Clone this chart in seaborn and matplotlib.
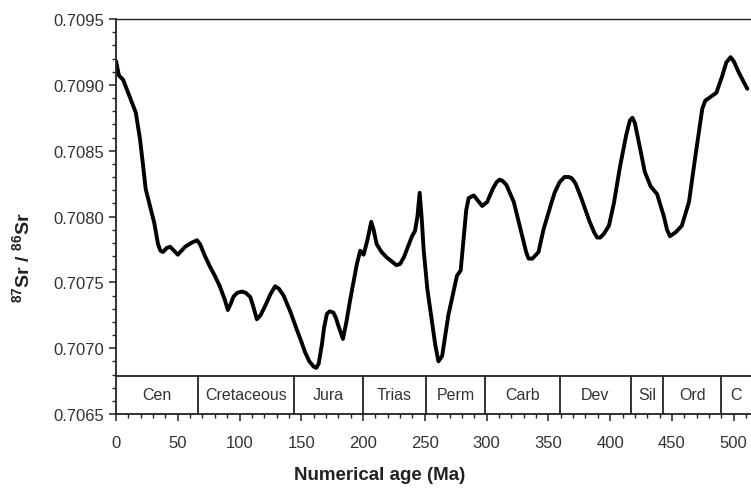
import matplotlib
matplotlib.use("Agg")
import matplotlib.pyplot as plt
import seaborn as sns
import pandas as pd
from matplotlib.ticker import MultipleLocator

# Sr isotope curve
age_ma = [0, 2.4, 5.7, 9, 12.7, 16, 19.4, 22, 24, 27.5, 31, 34, 36, 38, 41, 43.8, 47, 50,
          53, 56, 61, 65.6, 68, 72, 76, 80, 84, 88, 90.5, 93, 95, 98, 102, 105, 108.6,
          111, 114, 117, 120.7, 125, 128.8, 132, 135.6, 141, 146.4, 150, 153, 156.5,
          160, 162, 164, 166.7, 168.5, 170.7, 173, 176, 178, 180, 183.7, 186.5, 189.6,
          195, 197.7, 200.4, 203.5, 206.6, 208.5, 211, 215, 219, 223, 227, 230, 233,
          239.6, 242, 244, 245.8, 247.5, 249, 252, 255.8, 258.5, 261, 264, 269, 276,
          279, 281.5, 283.5, 285.5, 289.6, 293, 296.4, 300.4, 305, 308, 310.6, 313,
          316, 322, 328.8, 332, 334, 337, 342, 346, 351.7, 355, 359, 363, 366.5, 369,
          372, 377, 383, 387, 389.5, 392, 395, 399, 403, 408, 413, 416, 418, 420,
          424.6, 428, 432.7, 438, 443.5, 446, 448.4, 453, 458, 463.8, 469, 474.6,
          477, 480, 486, 490.8, 494, 497.5, 500, 504.3, 511]
sr_ratio = [0.70918, 0.70907, 0.70904, 0.70896, 0.70887, 0.70879, 0.70859, 0.70838,
            0.70821, 0.70808, 0.70795, 0.70779, 0.70774, 0.70773, 0.70776, 0.70777,
            0.70774, 0.70771, 0.70774, 0.70777, 0.70780, 0.70782, 0.70779, 0.70770,
            0.70762, 0.70755, 0.70747, 0.70737, 0.70729, 0.70734, 0.70739, 0.70742,
            0.70743, 0.70742, 0.70739, 0.70732, 0.70722, 0.70725, 0.70732, 0.70741,
            0.70747, 0.70745, 0.70740, 0.70728, 0.70714, 0.70705, 0.70697, 0.70690,
            0.70686, 0.70685, 0.70688, 0.70703, 0.70716, 0.70726, 0.70728, 0.70727,
            0.70723, 0.70717, 0.70707, 0.70720, 0.70737, 0.70764, 0.70774, 0.70771,
            0.70782, 0.70796, 0.70790, 0.70779, 0.70773, 0.70769, 0.70766, 0.70763,
            0.70764, 0.70769, 0.70785, 0.70789, 0.70800, 0.70818, 0.70798, 0.70775,
            0.70745, 0.70720, 0.70702, 0.70690, 0.70694, 0.70725, 0.70755, 0.70759,
            0.70785, 0.70805, 0.70814, 0.70816, 0.70812, 0.70808, 0.70811, 0.70821,
            0.70826, 0.70828, 0.70827, 0.70824, 0.70811, 0.70785, 0.70773, 0.70768,
            0.70768, 0.70773, 0.70790, 0.70808, 0.70818, 0.70826, 0.70830, 0.70830,
            0.70829, 0.70825, 0.70813, 0.70797, 0.70788, 0.70784, 0.70784, 0.70787,
            0.70793, 0.70810, 0.70838, 0.70862, 0.70873, 0.70875, 0.70871, 0.70850,
            0.70834, 0.70823, 0.70817, 0.70800, 0.70790, 0.70785, 0.70788, 0.70793,
            0.70811, 0.70846, 0.70882, 0.70888, 0.70890, 0.70894, 0.70907, 0.70917,
            0.70921, 0.70918, 0.70909, 0.70897]

# geological periods (boundaries in Ma)
period_names = ["Cen", "Cretaceous", "Jura", "Trias", "Perm", "Carb", "Dev", "Sil", "Ord", "C"]
period_edges = [0, 66, 144, 200, 251, 299, 359, 417, 443, 490, 514]

df = pd.DataFrame({"age": age_ma, "sr": sr_ratio})

sns.set_style("ticks")
plt.rcParams["font.family"] = ["Liberation Sans", "DejaVu Sans"]
plt.rcParams["mathtext.fontset"] = "custom"
plt.rcParams["mathtext.rm"] = "Liberation Sans:bold"
plt.rcParams["mathtext.it"] = "Liberation Sans:bold"
plt.rcParams["mathtext.bf"] = "Liberation Sans:bold"

fig = plt.figure(figsize=(7.51, 4.89), dpi=100)
ax = fig.add_axes([116 / 751, 1 - 415 / 489, 1 - 116 / 751, (415 - 20) / 489])

sns.lineplot(data=df, x="age", y="sr", color="black", linewidth=2.8, ax=ax,
             solid_joinstyle="round", solid_capstyle="round")

band_top = 0.70679
ax.axhline(band_top, color="#222222", linewidth=1.3)
for edge in period_edges[1:-1]:
    ax.plot([edge, edge], [0.7065, band_top], color="#222222", linewidth=1.3)
for name, lo, hi in zip(period_names, period_edges[:-1], period_edges[1:]):
    ax.text((lo + hi) / 2, (0.7065 + band_top) / 2, name, ha="center", va="center",
            fontsize=11.5, color="#333333")

ax.set_xlim(0, 514)
ax.set_ylim(0.7065, 0.7095)
ax.set_yticks([0.7065, 0.7070, 0.7075, 0.7080, 0.7085, 0.7090, 0.7095])
ax.set_yticklabels(["0.7065", "0.7070", "0.7075", "0.7080", "0.7085", "0.7090", "0.7095"])
ax.set_xticks([0, 50, 100, 150, 200, 250, 300, 350, 400, 450, 500])
ax.xaxis.set_minor_locator(MultipleLocator(10))
ax.yaxis.set_minor_locator(MultipleLocator(0.0001))
ax.tick_params(axis="both", which="major", labelsize=12, length=5, width=1.1,
               colors="#222222", labelcolor="#333333")
ax.tick_params(axis="both", which="minor", length=3, width=1.0, colors="#222222")
ax.tick_params(axis="x", pad=10)

for side in ["left", "top", "bottom"]:
    ax.spines[side].set_color("#222222")
    ax.spines[side].set_linewidth(1.3)
ax.spines["top"].set_linewidth(1.0)
ax.spines["right"].set_visible(False)

ax.set_xlabel("")
ax.set_ylabel("")
fig.text(380 / 751, 1 - 476 / 489, "Numerical age (Ma)", ha="center", va="center",
         fontsize=13.5, fontweight="bold", color="#222222")
fig.text(22 / 751, 1 - 258 / 489, r"$^{87}$Sr / $^{86}$Sr", rotation=90, ha="center",
         va="center", fontsize=14, fontweight="bold", color="#222222")

fig.savefig("out.png", dpi=100)
